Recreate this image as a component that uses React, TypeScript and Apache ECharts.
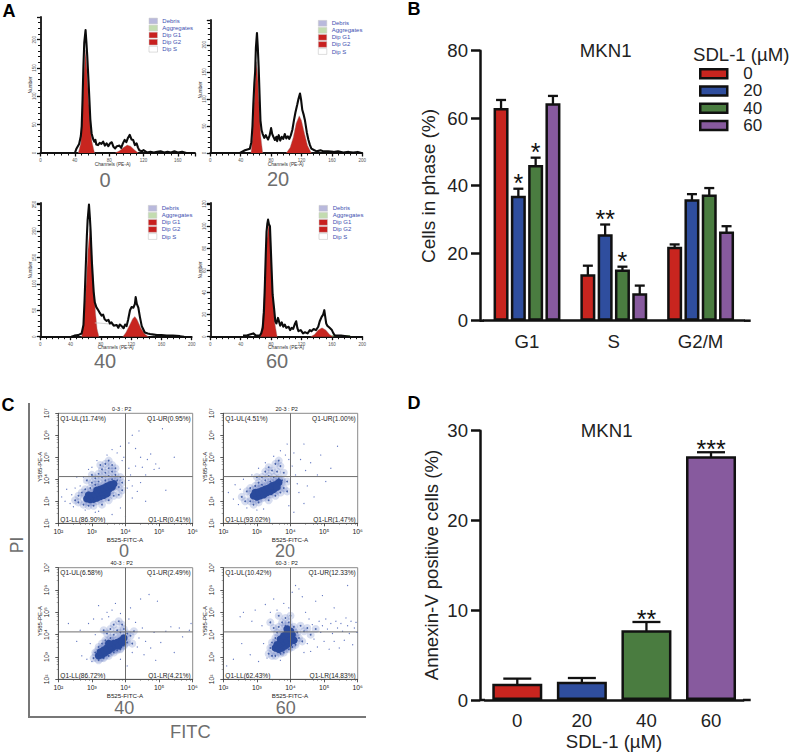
import React, { useEffect, useRef } from "react";
import * as echarts from "echarts";

const FONT = "'Liberation Sans', Arial, sans-serif";

// Panel A : DNA histograms, [channel, number]
const histTotal0 = [[40,0],[42,8],[45,16],[47,30],[48,47],[49,95],[50,153],[51,195],[52.5,217],[53.5,195],[54.5,170],[56,125],[57,93],[58,60],[59.5,35],[61,26],[62.6,20],[64,23],[65,15],[67,14],[69,18],[71,16],[73,20],[75,13],[77,17],[79,12],[81,17],[83,19],[85,11],[87,8],[89,12],[92,13],[94,9],[96,17],[98,23],[100,19],[102,27],[104,32],[106,24],[108,23],[110,14],[112,17],[113.5,10],[115,5],[118,3],[120,5],[124,1],[128,2],[132,1],[136,2],[140,3],[144,1],[148,2],[152,1],[156,3],[160,1],[165,2],[170,0],[178,0]];
const histG1_0 = [[44,0],[47,18],[49,80],[51,150],[52.5,182],[54,150],[56,95],[58,50],[60,20],[63,0]];
const histG2_0 = [[87,0],[92,4],[97,10],[101,14],[105,12],[109,6],[114,0]];

const histTotal20 = [[39,0],[45.6,5],[52,8],[54,20],[55.5,50],[56.6,90],[58,130],[59,150],[60,195],[61.4,222],[62.5,195],[63.6,160],[65,100],[66,60],[67.5,42],[69,35],[71,28],[73,33],[74,30],[76,25],[78,32],[80,46],[81.5,35],[83,30],[85,24],[87,30],[88,22],[90,33],[92,23],[94,30],[96,26],[98,35],[100,27],[102,31],[104,26],[106,33],[108,43],[110,60],[112,75],[114.5,90],[116,100],[118,110],[119.5,98],[121,80],[123,70],[124.6,60],[127,38],[129,25],[131,15],[133,8],[137,5],[140,3],[145,5],[149,3],[155,3],[162,2],[168,3],[175,1],[182,2],[188,1],[194,2],[199,0]];
const histG1_20 = [[53.5,0],[55.5,30],[57.5,90],[59.5,145],[61,169],[62.5,140],[64.5,80],[66.5,30],[69,0]];
const histG2_20 = [[100,0],[105,10],[109,28],[113,55],[117,69],[120,60],[124,36],[128,14],[133,0]];

const histTotal40 = [[41,0],[45,2],[50,3],[54.6,6],[57,22],[58.5,70],[60,130],[61.5,190],[62.5,220],[64.3,250],[65.5,225],[66.5,200],[68,145],[69,120],[70.5,85],[72,65],[74,56],[76.6,50],[79,44],[81,40],[83,42],[85,33],[87.6,30],[90,32],[92,25],[94,27],[97,21],[101,22],[103,17],[105,23],[107.5,20],[110,16],[112,23],[114,20],[116,32],[118.5,50],[120.5,56],[123,55],[125,62],[126,75],[127.5,62],[129.5,55],[131.5,38],[134,20],[136,14],[138,8],[142,6],[145,5],[150,4],[154,3],[160,3],[167,2],[175,2],[184.5,1],[190,0]];
const histG1_40 = [[54.6,0],[57,25],[60,85],[63,165],[65.6,205],[68,165],[70.5,95],[73,45],[75,15],[77.5,0]];
const histG2_40 = [[109,0],[113,8],[118,22],[122,34],[125,38],[128,32],[133,16],[138,5],[143,0]];
const histS_40 = [[72,26],[76,26],[84,25],[92,24],[100,20],[108,14]];

const histTotal60 = [[43,1],[48,1],[52,2],[56.6,3],[60,1],[65,1],[67,3],[69,8],[70.5,22],[71.5,40],[73,75],[74,95],[75,102],[76,106],[77,102],[78.5,100],[79.5,82],[80.7,60],[82,38],[84,25],[85.5,14],[87,12],[89,17],[92,10],[94,13],[96,9],[98,11],[100,8],[103,9],[105,6],[107,8],[109,7],[111,11],[113,14],[114.5,8],[116,5],[119,6],[122,3],[124.6,4],[128,3],[131,6],[133,5],[136,7],[139,6],[142,9],[144,14],[146.5,18],[148.5,20],[150,24],[151,19],[152.5,12],[154,10],[157,8],[160,6],[162,3],[164,1],[172,1],[184,0]];
const histG1_60 = [[66,0],[68.5,12],[71,40],[74,85],[77,104],[79.5,85],[82,40],[85,12],[88,0]];
const histG2_60 = [[132,0],[137,2],[142,6],[147,8],[152,6],[157,2],[162,0]];
const histAgg_60 = [[160,1],[184,1]];

const legendNamesA = ["Debris", "Aggregates", "Dip G1", "Dip G2", "Dip S"];
const panelLabels = ["0", "20", "40", "60"];

// Panel B
const phaseCats = ["G1", "S", "G2/M"];
const phase0 = [63, 13.8, 21.9];
const phase20 = [37, 25.6, 36];
const phase40 = [46.1, 15.2, 37.4];
const phase60 = [64.4, 8.1, 26.4];
const phaseErr0 = [65.4, 16.3, 22.6];
const phaseErr20 = [39.1, 28.5, 37.5];
const phaseErr40 = [48.3, 16, 39.3];
const phaseErr60 = [66.6, 10.4, 28];
const phaseSig0 = ["", "", ""];
const phaseSig20 = ["*", "**", ""];
const phaseSig40 = ["*", "*", ""];
const phaseSig60 = ["", "", ""];

// Panel D
const annexinCats = ["0", "20", "40", "60"];
const annexinVals = [1.82, 2.04, 7.76, 27.14];
const annexinErr = [2.38, 2.45, 8.69, 27.6];
const annexinSig = ["", "", "**", "***"];

// Panel C : [log10 FITC, log10 PI]
const core0 = [[2.85,3.12],[2.95,3.08],[3.05,3.1],[3.15,3.15],[3.25,3.22],[3.35,3.28],[3.45,3.35],[2.9,3.28],[3.0,3.25],[3.1,3.32],[3.2,3.38],[3.3,3.42],[3.4,3.5],[3.5,3.55],[3.6,3.65],[3.15,3.5],[3.25,3.55],[3.35,3.6],[3.45,3.68],[3.55,3.75],[3.65,3.8]];
const halo0 = [[2.5,3.05],[2.6,2.95],[2.6,3.25],[2.7,3.4],[2.75,2.85],[2.8,3.55],[2.9,2.8],[2.95,3.6],[3.05,2.8],[3.0,3.85],[3.1,3.75],[3.1,4.05],[3.2,3.9],[3.2,4.25],[3.3,4.1],[3.3,4.45],[3.4,3.95],[3.4,4.3],[3.4,4.7],[3.5,4.15],[3.5,4.5],[3.5,4.85],[3.6,4.0],[3.6,4.35],[3.6,4.65],[3.7,4.2],[3.7,4.5],[3.75,3.95],[3.8,3.65],[3.85,4.1],[3.9,3.5],[3.9,3.85],[3.3,2.85],[3.5,3.05],[3.65,3.25],[3.8,3.3],[3.0,4.2],[2.85,3.95],[3.25,4.65]];
const sparse0 = [[2.1,3.2],[2.2,3.0],[2.25,3.55],[2.35,2.9],[2.4,3.3],[2.45,2.75],[2.5,3.6],[2.55,4.1],[2.65,3.7],[2.75,4.1],[2.8,2.6],[2.9,4.45],[3.0,4.55],[3.1,2.5],[3.2,2.55],[3.15,4.85],[3.45,5.1],[3.6,5.35],[3.75,5.2],[3.85,5.5],[3.9,4.85],[3.95,5.0],[4.1,5.65],[4.2,6.0],[4.3,5.4],[4.4,6.2],[4.45,5.0],[4.1,4.5],[4.15,4.2],[4.3,4.6],[4.5,4.55],[4.65,4.9],[4.6,4.2],[4.2,3.7],[4.35,3.45],[4.45,3.85],[4.2,3.15],[4.6,3.0],[5.2,3.5],[3.85,2.7],[4.0,2.3],[3.6,2.4],[4.75,5.15],[4.85,4.45],[4.9,4.7],[5.0,4.5],[5.1,6.3],[5.45,5.0],[4.05,3.6],[4.1,3.95]];

const core20 = [[2.9,3.25],[3.0,3.2],[3.1,3.25],[3.2,3.3],[3.3,3.4],[3.4,3.45],[3.5,3.55],[2.95,3.4],[3.05,3.42],[3.15,3.48],[3.25,3.55],[3.35,3.6],[3.45,3.7],[3.55,3.75],[3.65,3.85],[3.6,3.65]];
const halo20 = [[2.55,3.2],[2.65,3.0],[2.7,3.45],[2.8,3.0],[2.8,3.6],[2.9,2.85],[2.95,3.7],[3.05,2.95],[3.05,3.85],[3.15,3.75],[3.15,4.1],[3.25,3.95],[3.25,4.35],[3.35,4.15],[3.4,3.9],[3.45,4.4],[3.5,4.1],[3.55,4.7],[3.6,4.35],[3.65,4.05],[3.7,4.6],[3.75,3.95],[3.8,4.3],[3.8,3.6],[3.9,3.9],[3.9,3.45],[3.35,3.05],[3.55,3.25],[3.7,3.4],[3.0,4.1],[3.35,4.55],[3.65,4.85]];
const sparse20 = [[2.15,3.4],[2.3,3.1],[2.35,3.75],[2.45,2.85],[2.5,3.55],[2.6,4.0],[2.7,2.7],[2.85,4.2],[3.0,2.6],[3.05,4.5],[3.2,2.65],[3.25,4.75],[3.5,5.05],[3.7,5.3],[3.85,5.1],[3.95,4.9],[3.9,5.6],[4.05,4.6],[4.1,5.2],[4.15,4.2],[4.2,3.8],[4.25,3.4],[4.3,4.9],[4.4,5.6],[4.45,4.4],[4.5,3.7],[4.6,4.75],[4.7,3.2],[4.8,4.2],[4.9,5.1],[5.05,3.9],[5.2,4.5],[5.4,5.5],[3.95,2.8],[4.1,2.5],[4.4,2.9]];

const core40 = [[3.2,3.05],[3.3,3.1],[3.4,3.2],[3.5,3.3],[3.6,3.4],[3.7,3.5],[3.25,3.22],[3.35,3.3],[3.45,3.4],[3.55,3.5],[3.65,3.6],[3.75,3.65],[3.85,3.72],[3.95,3.85],[3.8,3.5],[3.9,3.65],[3.5,3.6]];
const halo40 = [[3.05,2.95],[3.1,3.2],[3.2,2.85],[3.2,3.45],[3.3,3.6],[3.35,2.95],[3.4,3.75],[3.5,3.05],[3.55,3.85],[3.65,3.2],[3.65,4.0],[3.75,3.3],[3.75,4.2],[3.85,3.35],[3.85,4.1],[3.95,3.5],[3.95,4.25],[4.05,3.65],[4.05,4.05],[3.55,4.25],[3.45,4.05],[3.65,4.45],[3.8,4.6],[3.9,4.45],[4.15,3.95],[4.2,3.6],[4.25,4.15],[3.35,4.2]];
const sparse40 = [[2.3,4.5],[2.55,3.7],[2.65,4.2],[2.7,3.05],[2.85,2.9],[2.9,4.5],[2.95,3.6],[3.0,2.8],[3.05,4.7],[3.1,4.0],[3.2,5.3],[3.3,4.7],[3.45,5.0],[3.5,4.8],[3.6,5.1],[3.7,5.4],[3.85,4.95],[4.1,4.7],[4.15,5.2],[4.2,3.2],[4.3,4.55],[4.35,3.45],[4.4,3.85],[4.45,5.6],[4.5,4.3],[4.55,3.1],[4.6,3.7],[4.7,5.8],[4.75,3.4],[4.85,4.1],[4.95,5.5],[5.05,3.65],[5.2,4.15],[5.35,4.35],[5.45,3.2],[5.6,4.3],[5.7,3.9],[5.9,4.2],[5.95,4.5],[3.85,2.9],[4.05,2.6],[4.9,2.85]];

const core60 = [[3.55,3.4],[3.65,3.35],[3.75,3.4],[3.85,3.5],[3.95,3.6],[3.6,3.55],[3.7,3.6],[3.8,3.7],[3.9,3.75],[4.0,3.85],[4.05,4.0],[3.7,3.8],[3.8,3.95],[3.9,4.05],[4.0,4.15],[4.1,3.75],[3.9,4.25]];
const halo60 = [[3.35,3.15],[3.4,3.4],[3.45,3.05],[3.45,3.65],[3.55,3.05],[3.55,3.85],[3.6,4.1],[3.65,4.35],[3.7,3.15],[3.75,4.55],[3.8,3.2],[3.85,4.4],[3.85,4.75],[3.95,3.35],[3.95,4.55],[4.0,4.85],[4.05,3.45],[4.1,4.35],[4.15,3.55],[4.2,4.1],[4.25,3.85],[4.3,4.4],[4.35,3.7],[4.4,4.15],[4.5,4.3],[3.5,4.3],[3.4,4.55],[3.65,4.85],[4.6,4.0],[4.75,4.25]];
const sparse60 = [[2.1,2.6],[2.3,2.9],[2.5,4.8],[2.55,3.6],[2.6,5.0],[2.8,3.1],[2.85,4.6],[2.95,5.1],[3.05,2.8],[3.15,4.4],[3.2,3.6],[3.25,5.35],[3.3,2.95],[3.4,5.0],[3.5,5.6],[3.6,5.1],[3.7,2.85],[3.8,5.4],[3.95,5.2],[4.05,5.9],[4.15,6.2],[4.25,6.05],[4.35,5.7],[4.4,3.2],[4.45,5.0],[4.5,3.6],[4.55,4.7],[4.6,3.25],[4.65,4.45],[4.7,3.8],[4.75,5.5],[4.8,3.45],[4.85,4.6],[4.9,4.1],[4.95,4.4],[5.0,3.7],[5.05,4.7],[5.1,4.25],[5.15,3.35],[5.2,4.5],[5.25,4.05],[5.3,3.7],[5.35,4.6],[5.4,4.3],[5.45,3.4],[5.5,4.5],[5.55,4.15],[5.6,3.75],[5.65,4.75],[5.7,4.4],[5.75,4.05],[5.8,4.6],[5.85,3.55],[5.9,4.3],[5.95,4.55],[5.98,4.1],[4.95,5.75],[5.3,5.2],[5.7,6.2]];

const flowTitles = ["0-3 : P2", "20-3 : P2", "40-3 : P2", "60-3 : P2"];
const flowUL = ["Q1-UL(11.74%)", "Q1-UL(4.51%)", "Q1-UL(6.58%)", "Q1-UL(10.42%)"];
const flowUR = ["Q1-UR(0.95%)", "Q1-UR(1.00%)", "Q1-UR(2.49%)", "Q1-UR(12.33%)"];
const flowLL = ["Q1-LL(86.90%)", "Q1-LL(93.02%)", "Q1-LL(86.72%)", "Q1-LL(62.43%)"];
const flowLR = ["Q1-LR(0.41%)", "Q1-LR(1.47%)", "Q1-LR(4.21%)", "Q1-LR(14.83%)"];
const flowCore = [core0, core20, core40, core60];
const flowHalo = [halo0, halo20, halo40, halo60];
const flowSparse = [sparse0, sparse20, sparse40, sparse60];

const RED = "#c8251f";
const BLUE = "#2f4e9e";
const GREEN = "#4a7c40";
const PURPLE = "#875a9e";
const INK = "#111";

const SUP: Record<number, string> = { 2: "²", 3: "³", 4: "⁴", 5: "⁵", 6: "⁶", 7: "⁷" };

function gtext(text: string, x: number, y: number, size: number, fill: string, extra: any = {}) {
  const { align = "center", rotation = 0, weight = "normal" } = extra;
  return {
    type: "text", x, y, rotation, silent: true,
    style: { text, fontSize: size, fontFamily: FONT, fontWeight: weight, fill, align, verticalAlign: "middle" },
  };
}

function buildOption() {
  const grid: any[] = [];
  const xAxis: any[] = [];
  const yAxis: any[] = [];
  const series: any[] = [];
  const graphic: any[] = [];

  // ---------- Panel A
  const histLayout = [
    { left: 40.5, top: 17, w: 154.5, h: 136, xMax: 180, yMax: 240, yInt: 50, yMinor: 5, swX: 149, txX: 162.3, legY: 21, numX: 30, numY: 85, chX: 112.7, chY: 164.7, lab: [105, 180] },
    { left: 210.3, top: 20, w: 152, h: 133, xMax: 200, yMax: 246, yInt: 50, yMinor: 5, swX: 318.3, txX: 331.7, legY: 23.3, numX: 200, numY: 90, chX: 285.7, chY: 164.7, lab: [278, 179] },
    { left: 40.3, top: 203, w: 151.4, h: 133.7, xMax: 200, yMax: 253, yInt: 50, yMinor: 5, swX: 148.3, txX: 161.7, legY: 208.3, numX: 30, numY: 270, chX: 115.7, chY: 347.7, lab: [105, 361] },
    { left: 210.3, top: 203, w: 152, h: 133.7, xMax: 200, yMax: 121, yInt: 20, yMinor: 4, swX: 319, txX: 332.7, legY: 208.3, numX: 200, numY: 270, chX: 286, chY: 347.7, lab: [277, 361] },
  ];
  const totals = [histTotal0, histTotal20, histTotal40, histTotal60];
  const g1s = [histG1_0, histG1_20, histG1_40, histG1_60];
  const g2s = [histG2_0, histG2_20, histG2_40, histG2_60];
  const swatch = ["#b9b9dc", "#c3dcb0", "#c8201f", "#c8201f", "#ffffff"];

  histLayout.forEach((p, i) => {
    const gi = grid.length;
    grid.push({ left: p.left, top: p.top, width: p.w, height: p.h });
    const axisBase = {
      type: "value", gridIndex: gi, min: 0, splitLine: { show: false },
      axisLine: { show: true, onZero: false, lineStyle: { color: INK, width: 1.8 } },
      axisTick: { show: true, length: 3.5, lineStyle: { color: INK, width: 1.3 } },
      minorTick: { show: true, length: 2.5, lineStyle: { color: INK, width: 1 } },
    };
    xAxis.push({
      ...axisBase, max: p.xMax, interval: 40,
      minorTick: { ...axisBase.minorTick, splitNumber: 5 },
      axisLabel: { fontSize: 4.5, fontFamily: FONT, color: "#555", margin: 4.8, showMaxLabel: p.xMax === 200 },
    });
    yAxis.push({
      ...axisBase, max: p.yMax, interval: p.yInt,
      minorTick: { ...axisBase.minorTick, splitNumber: p.yMinor },
      axisLabel: { fontSize: 4.5, fontFamily: FONT, color: "#555", margin: 3.5, rotate: 90, showMaxLabel: false },
    });
    const area = (data: number[][], name: string, color: string) => ({
      type: "line", name, xAxisIndex: gi, yAxisIndex: gi, data, symbol: "none",
      lineStyle: { width: 0.4, color: "#9b8f8f" }, areaStyle: { color, opacity: 1 }, z: 2,
    });
    series.push(area(g1s[i], "Dip G1", RED), area(g2s[i], "Dip G2", RED));
    if (i === 2) {
      series.push({ type: "line", name: "Dip S", xAxisIndex: gi, yAxisIndex: gi, data: histS_40, symbol: "none", lineStyle: { width: 0.8, color: "#c9c9c9" }, z: 2 });
    }
    if (i === 3) {
      series.push({ type: "line", name: "Aggregates", xAxisIndex: gi, yAxisIndex: gi, data: histAgg_60, symbol: "none", lineStyle: { width: 1.2, color: "#9cc48a" }, z: 2 });
    }
    series.push({
      type: "line", name: "Total", xAxisIndex: gi, yAxisIndex: gi, data: totals[i], symbol: "none",
      lineStyle: { width: 2.1, color: "#0c0c0c", join: "round" }, z: 3,
    });
    legendNamesA.forEach((n, k) => {
      const y = p.legY + k * 7.05;
      graphic.push({
        type: "rect", shape: { x: p.swX, y: y - 2.9, width: 8.5, height: 5.8 }, silent: true,
        style: { fill: swatch[k], stroke: k === 4 ? "#bbb" : "#c8c8c8", lineWidth: 0.5 },
      });
      graphic.push(gtext(n, p.txX, y, 6, "#3c4fb0", { align: "left" }));
    });
    graphic.push(gtext("Number", p.numX, p.numY, 4.8, "#333", { rotation: Math.PI / 2 }));
    graphic.push(gtext("Channels (PE-A)", p.chX, p.chY, 4.8, "#333"));
    graphic.push(gtext(panelLabels[i], p.lab[0], p.lab[1], 20, "#6e6e6e"));
  });

  // ---------- Panel C
  const flowLayout = [
    { left: 58.3, top: 413.3, w: 134.4, h: 110, lab: [124, 551.3] },
    { left: 223.3, top: 413.3, w: 134.4, h: 110, lab: [285, 551.3] },
    { left: 58.3, top: 567.7, w: 134.4, h: 111.6, lab: [124.3, 707.7] },
    { left: 223.3, top: 567.7, w: 134.4, h: 111.6, lab: [285.7, 707.7] },
  ];
  const toRaw = (pts: number[][]) => pts.map(([a, b]) => [Math.pow(10, a), Math.pow(10, b)]);
  flowLayout.forEach((p, i) => {
    const gi = grid.length;
    grid.push({ left: p.left, top: p.top, width: p.w, height: p.h, show: true, borderColor: "#8a8a8a", borderWidth: 1 });
    const base = {
      type: "log", logBase: 10, gridIndex: gi, splitLine: { show: false },
      axisLine: { show: true, onZero: false, lineStyle: { color: "#555", width: 1 } },
      axisTick: { show: true, length: 3, lineStyle: { color: "#333", width: 0.8 } },
      minorTick: { show: true, splitNumber: 5, length: 1.6, lineStyle: { color: "#555", width: 0.5 } },
      minorSplitLine: { show: false },
    };
    xAxis.push({
      ...base, min: 100, max: 1e6, splitNumber: 4,
      axisLabel: { fontSize: 6.8, fontFamily: FONT, color: "#222", margin: 4.5, formatter: (v: number) => "10" + SUP[Math.round(Math.log10(v))] },
    });
    yAxis.push({
      ...base, min: 100, max: 1e7, splitNumber: 5,
      axisLabel: { fontSize: 6.8, fontFamily: FONT, color: "#222", margin: 8, rotate: 90, formatter: (v: number) => "10" + SUP[Math.round(Math.log10(v))] },
    });
    const sc = (data: number[][], name: string, size: number, color: string, opacity: number, z: number) => ({
      type: "scatter", name, xAxisIndex: gi, yAxisIndex: gi, data: toRaw(data), symbolSize: size,
      itemStyle: { color, opacity }, z,
    });
    series.push(sc(flowHalo[i], "halo glow", 8, "#3c58b2", 0.2, 1));
    series.push(sc(flowCore[i], "core glow", 14, "#3c58b2", 0.14, 1));
    series.push(sc(flowSparse[i], "sparse", 1.2, "#4a63b8", 0.9, 2));
    series.push(sc(flowHalo[i], "halo", 1.8, "#2f4e9e", 0.85, 2));
    series.push(sc(flowCore[i], "core", 7.5, "#2a4a9c", 1, 3));
    series.push({ type: "line", name: "Q1 x", xAxisIndex: gi, yAxisIndex: gi, data: [[1e4, 100], [1e4, 1e7]], symbol: "none", lineStyle: { width: 1, color: "#6e6e6e" }, z: 4 });
    series.push({ type: "line", name: "Q1 y", xAxisIndex: gi, yAxisIndex: gi, data: [[100, 1.33e4], [1e6, 1.33e4]], symbol: "none", lineStyle: { width: 1, color: "#6e6e6e" }, z: 4 });
    const r = p.left + p.w, b = p.top + p.h;
    graphic.push(gtext(flowTitles[i], p.left + 63.4, p.top - 4.8, 5.5, "#222"));
    graphic.push(gtext(flowUL[i], p.left + 2, p.top + 5, 6.6, "#222", { align: "left" }));
    graphic.push(gtext(flowUR[i], r - 2, p.top + 5, 6.6, "#222", { align: "right" }));
    graphic.push(gtext(flowLL[i], p.left + 2, b - 4, 6.6, "#222", { align: "left" }));
    graphic.push(gtext(flowLR[i], r - 2, b - 4, 6.6, "#222", { align: "right" }));
    graphic.push(gtext("B525-FITC-A", p.left + 66.7, b + 15.7, 6.2, "#222"));
    graphic.push(gtext("Y585-PE-A", p.left - 18.3, p.top + 53.4, 6, "#222", { rotation: Math.PI / 2 }));
    graphic.push(gtext(panelLabels[i], p.lab[0], p.lab[1], 18, "#6e6e6e"));
  });
  graphic.push({ type: "polyline", shape: { points: [[29, 403], [29, 717], [366, 717]] }, silent: true, style: { fill: "none", stroke: "#777", lineWidth: 2 } });
  graphic.push(gtext("PI", 16.5, 545, 17.5, "#6e6e6e", { rotation: Math.PI / 2 }));
  graphic.push(gtext("FITC", 190.3, 731, 18.3, "#6e6e6e"));

  // ---------- Panel B
  const barAxis = (gi: number, cats: string[], max: number, interval: number) => {
    xAxis.push({
      type: "category", gridIndex: gi, data: cats, axisLine: { lineStyle: { color: INK, width: 2.5 } },
      axisTick: { alignWithLabel: true, length: 8, lineStyle: { color: INK, width: 2.5 } },
      axisLabel: { fontSize: 18.6, fontFamily: FONT, color: "#222", margin: 11 },
    });
    yAxis.push({
      type: "value", gridIndex: gi, min: 0, max, interval, splitLine: { show: false }, offset: 0,
      axisLine: { show: true, lineStyle: { color: INK, width: 2.5 } },
      axisTick: { show: true, length: 9, lineStyle: { color: INK, width: 2.5 } },
      axisLabel: { fontSize: 18.6, fontFamily: FONT, color: "#222", margin: 12 },
    });
  };
  const errSeries = (gi: number, name: string, tops: number[], sig: string[], dx: number, cap: number, fontSize: number, starGap: number) => ({
    type: "custom", name, xAxisIndex: gi, yAxisIndex: gi, z: 4, clip: false,
    data: tops.map((t, idx) => [idx, t]),
    renderItem: (params: any, api: any) => {
      const p = api.coord([api.value(0), api.value(1)]);
      const base = api.coord([api.value(0), 0]);
      const x = p[0] + dx;
      const st = { stroke: INK, lineWidth: 2.3 };
      const kids: any[] = [
        { type: "line", shape: { x1: x, y1: p[1], x2: x, y2: base[1] - 1 }, style: st, z2: -1 },
        { type: "line", shape: { x1: x - cap / 2, y1: p[1], x2: x + cap / 2, y2: p[1] }, style: st },
      ];
      const s = sig[params.dataIndex];
      if (s) {
        kids.push({ type: "text", x, y: p[1] - starGap, style: { text: s, fontSize, fontFamily: FONT, fill: INK, align: "center", verticalAlign: "middle" } });
      }
      return { type: "group", children: kids };
    },
  });

  const bgi = grid.length;
  grid.push({ left: 483.6, top: 50.7, width: 260.4, height: 270 });
  barAxis(bgi, phaseCats, 80, 20);
  yAxis[yAxis.length - 1].offset = 3.6;
  const phaseVals = [phase0, phase20, phase40, phase60];
  const phaseErrs = [phaseErr0, phaseErr20, phaseErr40, phaseErr60];
  const phaseSigs = [phaseSig0, phaseSig20, phaseSig40, phaseSig60];
  const phaseColors = [RED, BLUE, GREEN, PURPLE];
  const step = 17.3;
  // error whiskers first so that the bars cover their lower part
  phaseVals.forEach((_, s) => {
    series.push(errSeries(bgi, "err " + panelLabels[s], phaseErrs[s], phaseSigs[s], (s - 1.5) * step, 10, 25, 5.5));
    series[series.length - 1].z = 1;
  });
  phaseVals.forEach((vals, s) => {
    series.push({
      type: "bar", name: panelLabels[s], xAxisIndex: bgi, yAxisIndex: bgi, data: vals, barWidth: 15, barGap: "15.3%", z: 3,
      itemStyle: { color: phaseColors[s], borderColor: INK, borderWidth: 2.5 },
    });
  });
  graphic.push(gtext("MKN1", 605.7, 50, 18.6, "#222"));
  graphic.push(gtext("Cells in phase (%)", 428, 186, 19, "#222", { rotation: Math.PI / 2 }));
  graphic.push(gtext("SDL-1 (µM)", 693, 54, 18.6, "#222", { align: "left" }));
  graphic.push({ type: "line", shape: { x1: 480, y1: 320.7, x2: 484, y2: 320.7 }, silent: true, style: { stroke: INK, lineWidth: 2.5 } });
  graphic.push({ type: "line", shape: { x1: 744, y1: 320.7, x2: 750.7, y2: 320.7 }, silent: true, style: { stroke: INK, lineWidth: 2.5 } });

  // ---------- Panel D
  const dgi = grid.length;
  grid.push({ left: 485, top: 430.7, width: 258.3, height: 269.3 });
  barAxis(dgi, annexinCats, 30, 10);
  yAxis[yAxis.length - 1].offset = 5;
  series.push(errSeries(dgi, "err annexin", annexinErr, annexinSig, 0, 28, 25, 3));
  series[series.length - 1].z = 1;
  series.push({
    type: "bar", name: "Annexin-V", xAxisIndex: dgi, yAxisIndex: dgi, barWidth: 50, z: 3,
    data: annexinVals.map((v, k) => ({ value: v, itemStyle: { color: phaseColors[k] } })),
    itemStyle: { borderColor: INK, borderWidth: 2.5 },
  });
  graphic.push(gtext("MKN1", 606.7, 430.7, 18.6, "#222"));
  graphic.push(gtext("Annexin-V positive cells (%)", 431.7, 565, 18.6, "#222", { rotation: Math.PI / 2 }));
  graphic.push(gtext("SDL-1 (µM)", 614, 741.7, 18.6, "#222"));
  graphic.push({ type: "line", shape: { x1: 480, y1: 700, x2: 485, y2: 700 }, silent: true, style: { stroke: INK, lineWidth: 2.5 } });
  graphic.push({ type: "line", shape: { x1: 743, y1: 700, x2: 750.7, y2: 700 }, silent: true, style: { stroke: INK, lineWidth: 2.5 } });

  // ---------- Panel letters
  graphic.push(gtext("A", 9, 11, 18, "#000", { weight: "bold" }));
  graphic.push(gtext("B", 414, 9, 18, "#000", { weight: "bold" }));
  graphic.push(gtext("C", 8, 405, 18, "#000", { weight: "bold" }));
  graphic.push(gtext("D", 414, 403, 18, "#000", { weight: "bold" }));

  return {
    animation: false,
    backgroundColor: "#fff",
    legend: {
      show: true, orient: "vertical", left: 699, top: 65, padding: 0, icon: "rect", itemWidth: 27, itemHeight: 9, itemGap: 0,
      selectedMode: false, data: panelLabels,
      itemStyle: { borderColor: INK, borderWidth: 2.5 },
      textStyle: { fontSize: 17, fontFamily: FONT, color: "#222", lineHeight: 17.3, padding: [0, 0, 0, 11] },
    },
    grid, xAxis, yAxis, series, graphic,
  };
}

export default function App() {
  const ref = useRef<HTMLDivElement>(null);
  useEffect(() => {
    document.body.style.margin = "0";
    const chart = echarts.init(ref.current!, undefined, { renderer: "svg" });
    chart.setOption(buildOption() as any);
    return () => chart.dispose();
  }, []);
  return <div ref={ref} style={{ width: 792, height: 753 }} />;
}
